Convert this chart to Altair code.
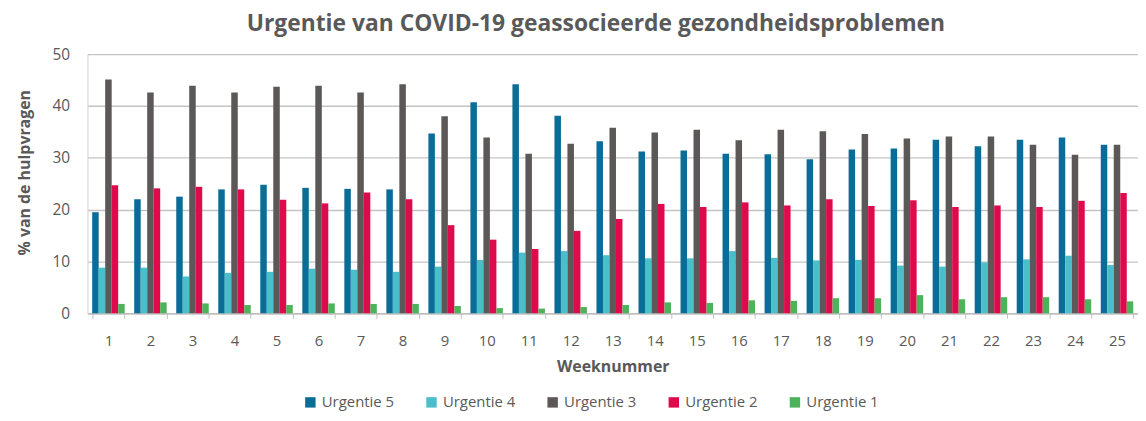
import altair as alt
import pandas as pd

weeks = list(range(1, 26))
series = ["Urgentie 5", "Urgentie 4", "Urgentie 3", "Urgentie 2", "Urgentie 1"]
colors = ["#0a6d98", "#48bfcb", "#5b5857", "#df0a4c", "#4db35a"]

u5 = [19.5, 22.0, 22.5, 23.9, 24.8, 24.2, 24.0, 23.9, 34.7, 40.7, 44.2, 38.1, 33.2,
      31.2, 31.4, 30.8, 30.7, 29.7, 31.6, 31.8, 33.5, 32.2, 33.5, 33.9, 32.5]
u4 = [8.8, 8.8, 7.1, 7.8, 8.0, 8.6, 8.4, 8.0, 9.0, 10.3, 11.7, 12.0, 11.2,
      10.6, 10.6, 12.0, 10.7, 10.2, 10.3, 9.2, 9.0, 9.8, 10.4, 11.1, 9.3]
u3 = [45.1, 42.6, 43.9, 42.6, 43.7, 43.9, 42.6, 44.2, 38.0, 33.9, 30.8, 32.7, 35.8,
      34.9, 35.4, 33.4, 35.4, 35.1, 34.6, 33.7, 34.1, 34.1, 32.5, 30.6, 32.5]
u2 = [24.7, 24.1, 24.4, 23.9, 21.9, 21.2, 23.3, 22.0, 17.0, 14.2, 12.4, 15.9, 18.2,
      21.1, 20.5, 21.4, 20.8, 22.0, 20.7, 21.8, 20.5, 20.8, 20.5, 21.7, 23.2]
u1 = [1.8, 2.1, 1.9, 1.6, 1.6, 1.9, 1.8, 1.8, 1.4, 1.0, 0.9, 1.2, 1.6,
      2.1, 2.0, 2.5, 2.4, 2.9, 2.9, 3.5, 2.7, 3.1, 3.1, 2.7, 2.3]

values = [u5, u4, u3, u2, u1]
rows = []
for s, vals in zip(series, values):
    for w, v in zip(weeks, vals):
        rows.append({"Week": w, "Reeks": s, "Waarde": v})
df = pd.DataFrame(rows)

txt = "#595959"
font = "Open Sans"

chart = alt.Chart(df).mark_bar().encode(
    x=alt.X("Week:O",
            scale=alt.Scale(paddingInner=0.227, paddingOuter=0.113),
            axis=alt.Axis(title="Weeknummer", labelAngle=0, tickBand="extent",
                          labelFontSize=15, labelColor=txt, labelFont=font,
                          labelPadding=15, tickSize=5, tickColor="#bfbfbf",
                          domainColor="#bfbfbf", domainWidth=1.5,
                          titleFontSize=16, titleFont=font, titleColor=txt,
                          titleFontWeight="bold", titlePadding=11, grid=False)),
    xOffset=alt.XOffset("Reeks:N", sort=series,
                        scale=alt.Scale(paddingInner=0, paddingOuter=0)),
    y=alt.Y("Waarde:Q",
            scale=alt.Scale(domain=[0, 50]),
            axis=alt.Axis(title="% van de hulpvragen", values=[0, 10, 20, 30, 40, 50],
                          labelFontSize=15.5, labelColor=txt, labelFont=font,
                          labelPadding=18, ticks=False,
                          domainColor="#d0d0d0", gridColor="#c4c4c4", gridWidth=1.3,
                          titleFontSize=16, titleFont=font, titleColor=txt,
                          titleFontWeight="bold", titlePadding=20, titleY=119)),
    color=alt.Color("Reeks:N", sort=series,
                    scale=alt.Scale(domain=series, range=colors),
                    legend=alt.Legend(title=None, orient="none", direction="horizontal",
                                      legendX=217, legendY=343, symbolType="square",
                                      symbolSize=110, symbolStrokeWidth=0,
                                      labelFontSize=15, labelFont=font,
                                      labelColor=txt, columnPadding=30)),
).properties(
    width=1058, height=261,
    title=alt.TitleParams(text="Urgentie van COVID-19 geassocieerde gezondheidsproblemen",
                          fontSize=23, font=font, fontWeight="bold", color=txt,
                          anchor="middle", dx=-17, offset=11),
    autosize=alt.AutoSizeParams(type="none"),
    padding={"left": 80, "top": 45, "right": 0, "bottom": 99},
).configure_view(stroke=None)

chart.save("out.html", embed_options={"renderer": "svg", "actions": False})
